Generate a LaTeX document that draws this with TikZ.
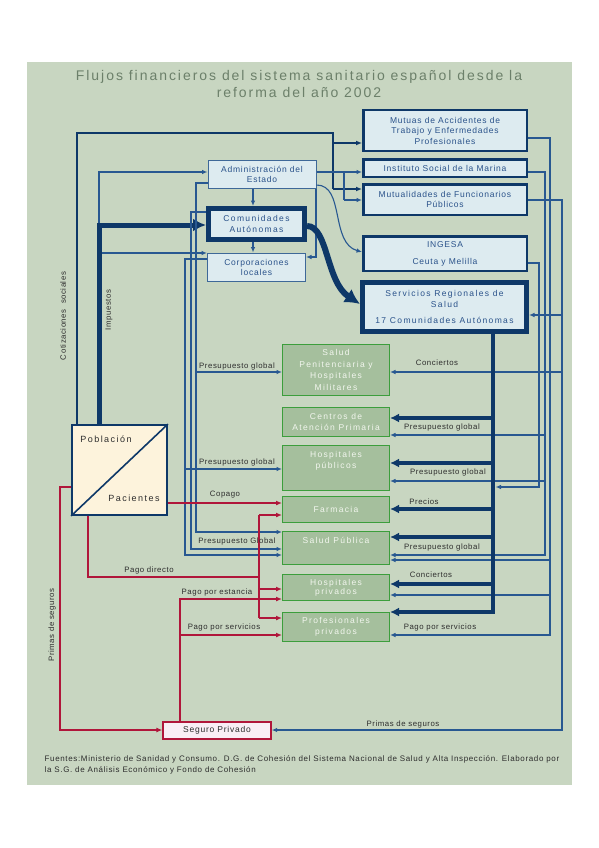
\documentclass[tikz,border=0pt]{standalone}
\usepackage{fontspec}
\setmainfont{Liberation Sans}
\newfontfamily\fLab[LetterSpace=7]{Liberation Sans}
\newfontfamily\fBox[LetterSpace=9]{Liberation Sans}
\newfontfamily\fWide[LetterSpace=16]{Liberation Sans}
\newfontfamily\fTtl[LetterSpace=14]{Liberation Sans}
\newfontfamily\fFoot[LetterSpace=8]{Liberation Sans}
\usetikzlibrary{arrows.meta}
\newcommand{\fsz}[2]{\fontsize{#1}{#2}\selectfont}
\definecolor{bgc}{RGB}{200,214,193}
\definecolor{navy}{RGB}{14,56,104}
\definecolor{lblue}{RGB}{40,88,145}
\definecolor{bborder}{RGB}{62,104,152}
\definecolor{bfill}{RGB}{221,235,240}
\definecolor{btext}{RGB}{42,82,138}
\definecolor{gfill}{RGB}{165,191,157}
\definecolor{gborder}{RGB}{60,158,60}
\definecolor{gtext}{RGB}{242,246,238}
\definecolor{redl}{RGB}{176,22,58}
\definecolor{pfill}{RGB}{253,243,220}
\definecolor{sfill}{RGB}{249,238,245}
\definecolor{ttl}{RGB}{108,128,106}
\definecolor{labc}{RGB}{45,45,45}
\begin{document}
\begin{tikzpicture}[x=1pt,y=-1pt,
  bbox/.style={draw=navy,fill=bfill,text=btext,inner sep=0pt,align=center,font=\fBox\fsz{8.5}{10.5}},
  wbox/.style={draw=navy,fill=bfill,text=btext,inner sep=0pt,align=center,font=\fWide\fsz{8.5}{10.5}},
  sbox/.style={draw=bborder,line width=1pt,fill=bfill,text=btext,inner sep=0pt,align=center,font=\fBox\fsz{8.5}{10.5}},
  gbox/.style={draw=gborder,line width=1.2pt,fill=gfill,text=gtext,inner sep=0pt,align=center,minimum width=106.8pt,font=\fWide\fsz{8.5}{11.5}},
  gtxt/.style={text=gtext,inner sep=0pt,align=center,font=\fWide\fsz{8.5}{11}},
  lab/.style={text=labc,inner sep=0pt,font=\fLab\fsz{7.8}{9}},
  tl/.style={draw=lblue,line width=1.1pt},
  tlA/.style={tl,-{Latex[length=5.5pt,width=4.5pt]}},
  md/.style={draw=navy,line width=1.6pt},
  mdA/.style={md,-{Latex[length=6pt,width=5pt]}},
  thk/.style={draw=navy,line width=3.6pt},
  thkA/.style={thk,-{Latex[length=9pt,width=9pt]}},
  rl/.style={draw=redl,line width=1.5pt},
  rlA/.style={rl,-{Latex[length=6pt,width=5pt]}}]
\useasboundingbox (0,0) rectangle (599,848);
\fill[white] (0,0) rectangle (599,848);
\fill[bgc] (27,62) rectangle (572,785);

% title
\node[text=ttl,align=center,inner sep=0pt,font=\fTtl\fsz{14}{17}] (title) at (299,83.5)
  {Flujos financieros del sistema sanitario español desde la\\reforma del año 2002};

% upper right boxes
\node[bbox,line width=2.5pt,minimum width=163.5pt,minimum height=40.5pt] (mutuas) at (445,130.5)
  {Mutuas de Accidentes de\\Trabajo y Enfermedades\\Profesionales};
\node[bbox,line width=2.5pt,minimum width=163.5pt,minimum height=17.5pt] (ism) at (445,168)
  {Instituto Social de la Marina};
\node[bbox,line width=2.5pt,minimum width=163.5pt,minimum height=30.5pt] (mutual) at (445,199.5)
  {Mutualidades de Funcionarios\\Públicos};
\node[bbox,line width=2.5pt,minimum width=163.5pt,minimum height=34.5pt] (ingesa) at (445,253.5)
  {INGESA\\[6.5pt]Ceuta y Melilla};
\node[wbox,line width=5pt,minimum width=164pt,minimum height=49pt] (srs) at (444.5,307)
  {Servicios Regionales de\\Salud\\[6pt]17 Comunidades Autónomas};

% administrations
\node[sbox,minimum width=108pt,minimum height=28pt] (admin) at (262,174.5)
  {Administración del\\Estado};
\node[wbox,line width=5pt,minimum width=96pt,minimum height=31pt] (ccaa) at (256.5,224)
  {Comunidades\\Autónomas};
\node[sbox,minimum width=98pt,minimum height=28.5pt] (corp) at (256.5,267.3)
  {Corporaciones\\locales};

% green provider boxes
\node[gbox,minimum height=50.8pt] (pen) at (336,370) {Salud\\Penitenciaria y\\Hospitales\\Militares};
\node[gbox,minimum height=28.8pt] (cap) at (336,422) {Centros de\\Atención Primaria};
\node[gbox,minimum height=44.8pt] (hpub) at (336,468) {};
\node[gtxt] (hpubt) at (336,460.5) {Hospitales\\públicos};
\node[gbox,minimum height=25.8pt] (farm) at (336,509.5) {Farmacia};
\node[gbox,minimum height=32.8pt] (spub) at (336,548) {};
\node[gtxt] (spubt) at (336,540.5) {Salud Pública};
\node[gbox,minimum height=25.8pt,font=\fWide\fsz{8.5}{9}] (hpriv) at (336,587.5) {Hospitales\\privados};
\node[gbox,minimum height=28.8pt,font=\fWide\fsz{8.5}{11}] (ppriv) at (336,627) {Profesionales\\privados};

% population / patients
\node[draw=navy,line width=1.8pt,fill=pfill,minimum width=95pt,minimum height=90pt,inner sep=0pt] (pob) at (119.5,470) {};
\draw[navy,line width=1.6pt] (pob.south west) -- (pob.north east);
\node[text=labc,inner sep=0pt,font=\fWide\fsz{9}{11}] (pobt) at (106,439.5) {Población};
\node[text=labc,inner sep=0pt,font=\fWide\fsz{9}{11}] (pact) at (134,498.5) {Pacientes};

% private insurance
\node[draw=redl,line width=1.8pt,fill=sfill,text=labc,minimum width=107.5pt,minimum height=17.5pt,inner sep=0pt,font=\fBox\fsz{8.5}{10}] (seg) at (217,730.5) {Seguro Privado};

% ---- blue connectors
% cotizaciones sociales
\draw[md] (77,0 |- pob.north) |- (333,133) -- (333,189);
\draw[mdA] (333,143) -- (mutuas.west |- 0,143);
\draw[mdA] (333,189) -- (mutual.west |- 0,189);
% administracion del estado
\draw[tlA] (admin.east |- 0,172) -- (ism.west |- 0,172);
\draw[tl] (344,172) -- (344,200);
\draw[tlA] (344,200) -- (mutual.west |- 0,200);
\draw[tlA] (admin.east |- 0,185) .. controls (345,185) and (330,243) .. (ingesa.west |- 0,252);
\draw[tlA] (253,0 |- admin.south) -- (253,0 |- ccaa.north);
\draw[tlA] (253,0 |- ccaa.south) -- (253,0 |- corp.north);
\draw[tlA] (316,0 |- admin.south) |- (corp.east |- 0,257);
% impuestos
\draw[tlA] (99,225) |- (admin.west |- 0,172);
\draw[tlA] (99,253) -- (corp.west |- 0,253);
\draw[navy,line width=5pt,-{Latex[length=13pt,width=13pt]}] (99,0 |- pob.north) |- (ccaa.west |- 0,225);
% left budget lines
\draw[tlA] (admin.west |- 0,183) -| (196,532) -- (spub.west |- 0,532);
\draw[tlA] (196,372) -- (pen.west |- 0,372);
\draw[tlA] (ccaa.west |- 0,212) -| (191,549) -- (spub.west |- 0,549);
\draw[tlA] (corp.west |- 0,259) -| (185,555) -- (spub.west |- 0,555);
\draw[tlA] (185,469) -- (hpub.west |- 0,469);
% right lines
\draw[tlA] (mutuas.east |- 0,138) -| (550,635) -- (ppriv.east |- 0,635);
\draw[tlA] (550,560) -- (spub.east |- 0,560);
\draw[tlA] (550,595) -- (hpriv.east |- 0,595);
\draw[tlA] (ism.east |- 0,172) -| (545,555) -- (spub.east |- 0,555);
\draw[tlA] (545,435) -- (cap.east |- 0,435);
\draw[tlA] (545,481) -- (hpub.east |- 0,481);
\coordinate (tving) at (495.5,487);
\draw[tlA] (ingesa.east |- 0,263) -| (539,487) -- (tving);
\draw[tlA] (mutual.east |- 0,200) -| (562,730) -- (seg.east |- 0,730);
\draw[tlA] (562,315) -- (srs.east |- 0,315);
\draw[tlA] (562,372) -- (pen.east |- 0,372);
% thick: comunidades -> servicios regionales
\draw[navy,line width=6pt,-{Latex[length=15pt,width=16pt]}] (ccaa.east |- 0,226) .. controls (328,226) and (326,282) .. (srs.west |- 0,304);
% thick distribution line
\draw[thkA] (493,0 |- srs.south) -- (493,612) -- (ppriv.east |- 0,612);
\draw[thkA] (493,418) -- (cap.east |- 0,418);
\draw[thkA] (493,463) -- (hpub.east |- 0,463);
\draw[thkA] (493,509) -- (farm.east |- 0,509);
\draw[thkA] (493,537) -- (spub.east |- 0,537);
\draw[thkA] (493,584) -- (hpriv.east |- 0,584);

% ---- red connectors
\draw[rlA] (pob.east |- 0,503) -- (farm.west |- 0,503);
\draw[rl] (88,0 |- pob.south) |- (259,577);
\draw[rl] (259,515) -- (259,618);
\draw[rlA] (259,515) -- (farm.west |- 0,515);
\draw[rlA] (259,589) -- (hpriv.west |- 0,589);
\draw[rlA] (259,618) -- (ppriv.west |- 0,618);
\draw[rlA] (180,0 |- seg.north) |- (hpriv.west |- 0,599);
\draw[rlA] (180,635) -- (ppriv.west |- 0,635);
\draw[rlA] (pob.west |- 0,487) -| (60,730) -- (seg.west |- 0,730);

% ---- labels
\node[lab,rotate=90] (lcot) at (63,316) {Cotizaciones\ \ sociales};
\node[lab,rotate=90] (limp) at (109,310) {Impuestos};
\node[lab,rotate=90] (lpri) at (52,625) {Primas de seguros};
\node[lab] (lpg1) at (237,366) {Presupuesto global};
\node[lab] (lpg2) at (237,462) {Presupuesto global};
\node[lab] (lcop) at (225,495) {Copago};
\node[lab] (lpg3) at (237,541) {Presupuesto Global};
\node[lab] (lpd) at (149,570.5) {Pago directo};
\node[lab] (lpe) at (217,592) {Pago por estancia};
\node[lab] (lps) at (224,627) {Pago por servicios};
\node[lab] (lcon1) at (437,363) {Conciertos};
\node[lab] (lpg4) at (442,427) {Presupuesto global};
\node[lab] (lpg5) at (448,472) {Presupuesto global};
\node[lab] (lpre) at (424,502) {Precios};
\node[lab] (lpg6) at (442,547) {Presupuesto global};
\node[lab] (lcon2) at (431,575) {Conciertos};
\node[lab] (lps2) at (440,627) {Pago por servicios};
\node[lab] (lpri2) at (403,724) {Primas de seguros};

% footer
\node[anchor=north west,text=labc,align=left,inner sep=0pt,font=\fFoot\fsz{8}{11}] (foot) at (44.5,755)
  {Fuentes:Ministerio de Sanidad y Consumo. D.G. de Cohesión del Sistema Nacional de Salud y Alta Inspección. Elaborado por\\la S.G. de Análisis Económico y Fondo de Cohesión};
\end{tikzpicture}
\end{document}
